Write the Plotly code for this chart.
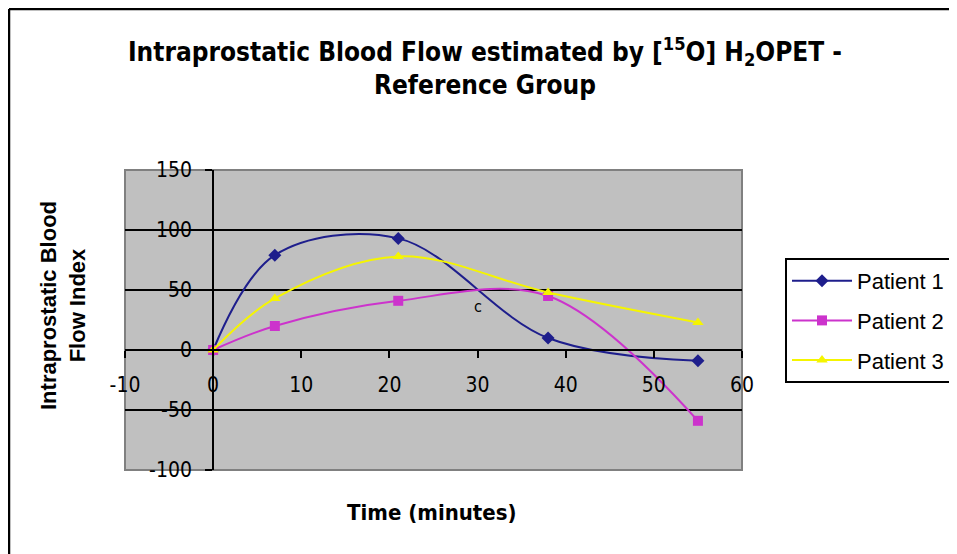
import plotly.graph_objects as go

# 数据
time_min = [0, 7, 21, 38, 55]
patient1 = [0, 79, 93, 10, -9]
patient2 = [0, 20, 41, 45, -59]
patient3 = [0, 43, 78, 48, 23]

series_names = ["Patient 1", "Patient 2", "Patient 3"]
series_colors = ["#1E1E8C", "#CC33CC", "#F5F500"]
series_symbols = ["diamond", "square", "triangle-up"]

x_ticks = [-10, 0, 10, 20, 30, 40, 50, 60]
y_ticks = [-100, -50, 0, 50, 100, 150]
x_range = [-10, 60]
y_range = [-100, 150]
grid_vals = [-50, 50, 100]

narrow = "DejaVu Sans Condensed, Liberation Sans Narrow, Arial Narrow, Liberation Sans"

# 绘图区像素位置（页面有8px偏移）
L, T, W, H = 117, 162, 617, 300

fig = go.Figure()
for name, ys, color, sym in zip(series_names, [patient1, patient2, patient3],
                                series_colors, series_symbols):
    fig.add_trace(go.Scatter(
        x=time_min, y=ys, name=name, mode="lines+markers", legendgroup=name,
        line=dict(color=color, width=2, shape="spline", smoothing=1.0),
        marker=dict(symbol=sym, size=10, color=color),
    ))

# 坐标轴在0处相交
x_pos_of_y = (0 - x_range[0]) / (x_range[1] - x_range[0])
y_pos_of_x = (0 - y_range[0]) / (y_range[1] - y_range[0])

fig.update_layout(
    width=957, height=554,
    margin=dict(l=L, r=957 - L - W, t=T, b=554 - T - H),
    paper_bgcolor="white", plot_bgcolor="#C0C0C0",
    title=dict(
        text="Intraprostatic Blood Flow estimated by [<sup>15</sup>O] H<sub>2</sub>OPET -<br>Reference Group",
        x=(485 - 8) / 957, xanchor="center", y=0.905, yanchor="top",
        font=dict(family=narrow, size=26, color="black", weight="bold"),
    ),
    xaxis=dict(
        range=x_range, tickvals=x_ticks, ticktext=[str(v) for v in x_ticks],
        anchor="free", position=y_pos_of_x,
        showline=True, linecolor="black", linewidth=2,
        ticks="outside", ticklen=7, tickwidth=2, tickcolor="black",
        ticklabelstandoff=9,
        showgrid=False, zeroline=False,
        tickfont=dict(family=narrow, size=21, color="black"),
    ),
    yaxis=dict(
        range=y_range, tickvals=y_ticks, ticktext=[str(v) for v in y_ticks],
        anchor="free", position=x_pos_of_y,
        showline=True, linecolor="black", linewidth=2,
        ticks="outside", ticklen=7, tickwidth=2, tickcolor="black",
        ticklabelstandoff=9,
        showgrid=False, zeroline=False,
        tickfont=dict(family=narrow, size=21, color="black"),
    ),
    yaxis2=dict(
        range=y_range, overlaying="y", tickvals=grid_vals,
        showticklabels=False, showline=False, ticks="", zeroline=False,
        showgrid=True, gridcolor="black", gridwidth=2,
    ),
    legend=dict(
        x=(777 - L) / W, y=(T + H - 250) / H, xanchor="left", yanchor="top",
        bgcolor="white", bordercolor="black", borderwidth=2,
        font=dict(family="Liberation Sans, Arial", size=22, color="black"),
        itemwidth=60, tracegroupgap=8,
    ),
    showlegend=True,
)

# 触发 yaxis2 显示网格
fig.add_trace(go.Scatter(x=[None], y=[None], yaxis="y2", showlegend=False,
                         hoverinfo="skip"))

# 绘图区灰色边框
fig.add_shape(type="rect", xref="paper", yref="paper", x0=0, x1=1, y0=0, y1=1,
              line=dict(color="#808080", width=2), layer="below")
# 外框：只有左边和上边可见
frame_x = (1 - L) / W
frame_y = (T + H - 1) / H
fig.add_shape(type="line", xref="paper", yref="paper",
              x0=frame_x, x1=frame_x, y0=frame_y, y1=(T + H - 600) / H,
              line=dict(color="black", width=2.5), layer="below")
fig.add_shape(type="line", xref="paper", yref="paper",
              x0=frame_x, x1=(1000 - L) / W, y0=frame_y, y1=frame_y,
              line=dict(color="black", width=2.5), layer="below")

fig.add_annotation(x=30, y=36, text="c", showarrow=False,
                   font=dict(family=narrow, size=16, color="black"))

fig.add_annotation(text="Time (minutes)", xref="paper", yref="paper",
                   x=(432 - 8 - L) / W, y=(T + H - (512 - 8)) / H, showarrow=False,
                   xanchor="center", yanchor="middle",
                   font=dict(family=narrow, size=22, color="black", weight="bold"))
fig.add_annotation(text="Intraprostatic Blood<br>Flow Index", xref="paper", yref="paper",
                   x=(63 - 8 - L) / W, y=(T + H - (306 - 8)) / H, textangle=-90,
                   xanchor="center", yanchor="middle", showarrow=False,
                   font=dict(family="Liberation Sans, Arial", size=22, color="black",
                             weight="bold"))

fig.write_html("out.html")
